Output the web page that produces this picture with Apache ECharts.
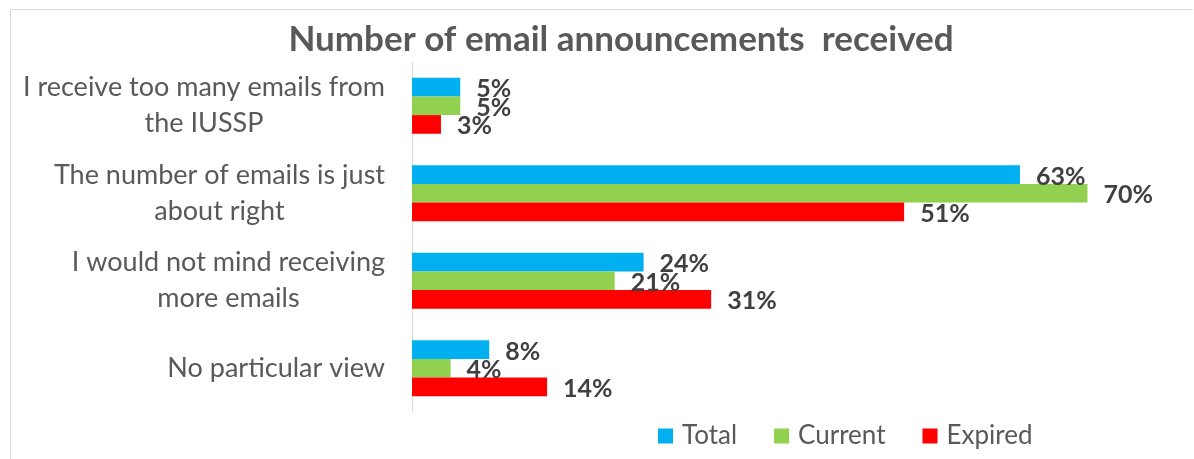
<!DOCTYPE html>
<html>
<head>
<meta charset="utf-8">
<script src="https://cdn.jsdelivr.net/npm/echarts@6/dist/echarts.min.js"></script>
<style>
  html, body { margin: 0; padding: 0; background: #fff; }
  #wrap { position: relative; width: 1194px; height: 459px; overflow: hidden; }
  #chart { position: absolute; left: 0; top: 0; width: 1194px; height: 459px; }
  #frame { position: absolute; left: 10px; top: 9px; right: 1px; bottom: -2px;
           border-left: 1px solid #d9d9d9; border-top: 1px solid #d9d9d9;
           pointer-events: none; z-index: 2; }
</style>
</head>
<body>
<div id="wrap">
  <div id="chart"></div>
  <div id="frame"></div>
</div>
<script>
// Survey answers, top to bottom
const categories = [
  'I receive too many emails from\nthe IUSSP',
  'The number of emails is just\nabout right',
  'I would not mind receiving\nmore emails',
  'No particular view'
];
// Percent of respondents per group
const totalValues = [5, 63, 24, 8];
const currentValues = [5, 70, 21, 4];
const expiredValues = [3, 51, 31, 14];
const seriesNames = ['Total', 'Current', 'Expired'];
const seriesColors = ['#00B0F0', '#92D050', '#FF0000'];

const FONT = 'Lato, "Open Sans", sans-serif';

function makeSeries(name, values, color) {
  return {
    name: name,
    type: 'bar',
    data: values,
    barGap: '0%',
    barCategoryGap: '36%',
    itemStyle: { color: color },
    label: {
      show: true,
      position: 'right',
      distance: 16,
      offset: [0, 2],
      formatter: '{c}%',
      fontFamily: FONT,
      fontWeight: 'bold',
      fontSize: 25,
      color: '#404040'
    }
  };
}

const chart = echarts.init(document.getElementById('chart'), null, { renderer: 'canvas' });
chart.setOption({
  backgroundColor: '#ffffff',
  animation: false,
  title: {
    text: 'Number of email announcements  received',
    left: 616,
    textAlign: 'center',
    top: 17,
    textStyle: { fontFamily: FONT, fontWeight: 'bold', fontSize: 35, color: '#595959' }
  },
  legend: {
    data: seriesNames,
    left: 653,
    top: 418,
    icon: 'rect',
    itemWidth: 15,
    itemHeight: 15,
    itemGap: 37,
    textStyle: { fontFamily: FONT, fontSize: 26, color: '#595959', padding: [0, 0, 0, 4] }
  },
  grid: { left: 412, right: 10, top: 62, bottom: 47, containLabel: false },
  xAxis: {
    type: 'value',
    min: 0,
    max: 80,
    show: false
  },
  yAxis: {
    type: 'category',
    inverse: true,
    data: categories,
    axisLine: { show: true, lineStyle: { color: '#d9d9d9', width: 1 } },
    axisTick: { show: false },
    splitLine: { show: false },
    axisLabel: {
      margin: 27,
      formatter: function (v) {
        return v.split('\n').map(function (s) { return '{c|' + s + '}'; }).join('\n');
      },
      rich: {
        c: { align: 'center', fontFamily: FONT, fontSize: 27, color: '#595959', lineHeight: 36 }
      }
    }
  },
  series: [
    makeSeries(seriesNames[0], totalValues, seriesColors[0]),
    makeSeries(seriesNames[1], currentValues, seriesColors[1]),
    makeSeries(seriesNames[2], expiredValues, seriesColors[2])
  ]
});
</script>
</body>
</html>
